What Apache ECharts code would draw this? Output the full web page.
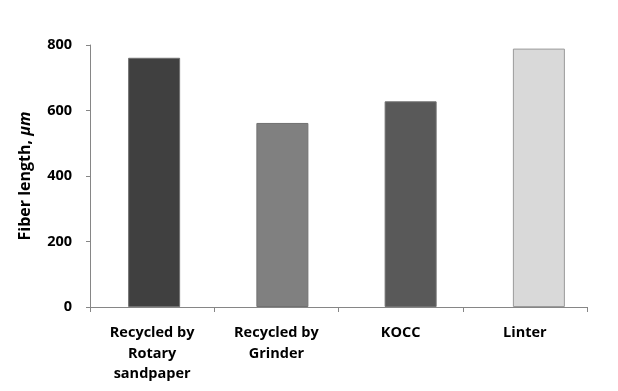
<!DOCTYPE html>
<html><head><meta charset="utf-8">
<script src="https://cdn.jsdelivr.net/npm/echarts@6/dist/echarts.min.js"></script>
<style>html,body{margin:0;padding:0;background:#fff}#c{width:618px;height:391px}</style>
</head><body><div id="c"></div>
<script>
const categories = ['Recycled by\nRotary\nsandpaper', 'Recycled by\nGrinder', 'KOCC', 'Linter'];
const values = [761, 562, 628, 789];
const barColors = ['#404040', '#808080', '#595959', '#d9d9d9'];
const yTicks = [0, 200, 400, 600, 800];

const chart = echarts.init(document.getElementById('c'));
const font = '"Open Sans", "DejaVu Sans", sans-serif';
const yMin = yTicks[0], yMax = yTicks[yTicks.length - 1];
chart.setOption({
  animation: false,
  grid: [
    {left: 90, right: 31, top: 45, bottom: 84},
    {left: 90, right: 15, top: 45, bottom: 84}
  ],
  xAxis: [{
    gridIndex: 0, type: 'category', data: categories,
    axisLine: {lineStyle: {color: '#868686', width: 1}},
    axisTick: {show: true, alignWithLabel: false, length: 5, lineStyle: {color: '#868686'}},
    axisLabel: {color: '#000', fontFamily: font, fontWeight: 'bold', fontSize: 14.5, lineHeight: 20.5, margin: 16, interval: 0}
  }, {
    gridIndex: 1, type: 'category', data: categories, show: false
  }],
  yAxis: [{
    gridIndex: 0, type: 'value', min: yMin, max: yMax, interval: 200,
    name: '{a|Fiber length, }{b|μm}', nameLocation: 'middle', nameGap: 57, nameRotate: 90,
    nameTextStyle: {rich: {
      a: {fontFamily: font, fontWeight: 'bold', fontSize: 16, color: '#000'},
      b: {fontFamily: font, fontWeight: 'bold', fontStyle: 'italic', fontSize: 16, color: '#000'}
    }},
    splitLine: {show: false},
    axisLine: {show: true, lineStyle: {color: '#868686', width: 1}},
    axisTick: {show: true, length: 4, lineStyle: {color: '#868686'}},
    axisLabel: {color: '#000', fontFamily: font, fontWeight: 'bold', fontSize: 14.5, margin: 18}
  }, {
    gridIndex: 1, type: 'value', min: yMin, max: yMax, show: false, splitLine: {show: false}
  }],
  series: [{
    type: 'bar', xAxisIndex: 1, yAxisIndex: 1, barWidth: 52,
    data: values.map((v, i) => ({value: v, itemStyle: {color: barColors[i], borderColor: i === 3 ? '#9a9a9a' : '#707070', borderWidth: 1}}))
  }]
});
</script></body></html>
